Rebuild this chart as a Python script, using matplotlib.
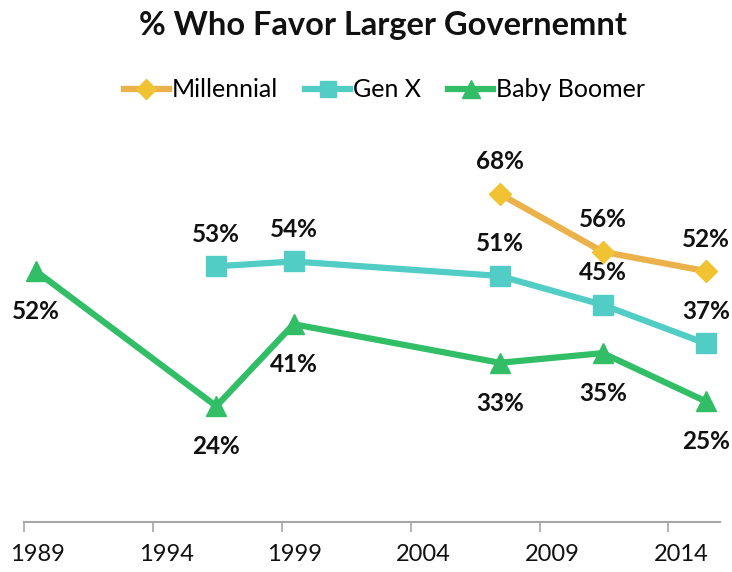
import matplotlib.pyplot as plt
from matplotlib.lines import Line2D

plt.rcParams['font.family'] = ['Lato', 'DejaVu Sans']

# survey years (points sit in the middle of each year slot)
years_boomer = [1989, 1996, 1999, 2007, 2011, 2015]
boomer = [52, 24, 41, 33, 35, 25]

years_genx = [1996, 1999, 2007, 2011, 2015]
genx = [53, 54, 51, 45, 37]

years_mill = [2007, 2011, 2015]
millennial = [68, 56, 52]

tick_years = [1989, 1994, 1999, 2004, 2009, 2014]

c_mill_line = '#EBB14B'
c_mill_marker = '#F1C232'
c_genx = '#52CDC5'
c_boomer = '#32BE67'

fig = plt.figure(figsize=(7.32, 5.72), dpi=100)
ax = fig.add_axes([0.0333, 0.0874, 0.9503, 0.6748])

mid = 0.45


def draw(years, vals, color, marker, ms, mfc, where):
    xs = [y + mid for y in years]
    ax.plot(xs, vals, color=color, lw=4.5, marker=marker, ms=ms,
            mfc=mfc, mec=mfc, zorder=3)
    for x, v in zip(xs, vals):
        dy = 23 if where == 'above' else -29
        ax.annotate(f'{v}%', (x, v), xytext=(0, dy), textcoords='offset points',
                    ha='center', va='center', fontsize=17.5, fontweight='bold',
                    color='#111111')


draw(years_boomer, boomer, c_boomer, '^', 15, c_boomer, 'below')
draw(years_genx, genx, c_genx, 's', 14, c_genx, 'above')
draw(years_mill, millennial, c_mill_line, 'D', 11, c_mill_marker, 'above')

ax.set_xlim(1989, 2016)
ax.set_ylim(0, 80)
ax.set_yticks([])
for s in ['left', 'right', 'top']:
    ax.spines[s].set_visible(False)
ax.spines['bottom'].set_color('#A6A6A6')
ax.spines['bottom'].set_linewidth(1.5)

ax.set_xticks(tick_years)
ax.set_xticklabels([])
ax.tick_params(axis='x', which='major', length=7, width=1.2, color='#A6A6A6')
ax.set_xticks([y + 0.5 for y in tick_years], minor=True)
ax.set_xticklabels([str(y) for y in tick_years], minor=True)
ax.tick_params(axis='x', which='minor', length=0, pad=16, labelsize=17,
               labelcolor='#111111')

fig.text(0.523, 0.956, '% Who Favor Larger Governemnt', ha='center', va='center',
         fontsize=23.5, fontweight='bold', color='#111111')

handles = [
    Line2D([], [], color=c_mill_line, lw=4.5, marker='D', ms=10,
           mfc=c_mill_marker, mec=c_mill_marker),
    Line2D([], [], color=c_genx, lw=4.5, marker='s', ms=12, mfc=c_genx, mec=c_genx),
    Line2D([], [], color=c_boomer, lw=4.5, marker='^', ms=13, mfc=c_boomer, mec=c_boomer),
]
fig.legend(handles, ['Millennial', 'Gen X', 'Baby Boomer'], loc='center',
           bbox_to_anchor=(0.525, 0.843), ncol=3, frameon=False, fontsize=18,
           handlelength=1.8, handletextpad=0.1, columnspacing=1.1)

fig.savefig('out.png', dpi=100)
